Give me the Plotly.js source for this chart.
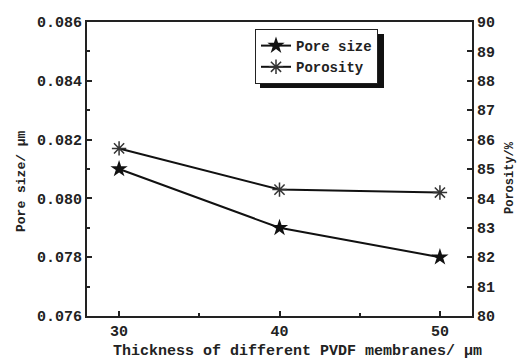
<!DOCTYPE html>
<html><head><meta charset="utf-8">
<script src="https://cdn.plot.ly/plotly-3.0.1.min.js"></script>
<style>html,body{margin:0;padding:0;background:#fff}#c{width:520px;height:364px}</style>
</head><body><div id="c"></div>
<script>
const thickness = [30, 40, 50];
const poreSize = [0.081, 0.079, 0.078];
const porosity = [85.7, 84.3, 84.2];
const xTitle = 'Thickness of different PVDF membranes/ μm';
const yTitle = 'Pore size/ μm';
const y2Title = 'Porosity/%';

const F = '"Liberation Mono", "DejaVu Sans Mono", monospace';
const traces = [
  {x: thickness, y: poreSize, name: 'Pore size', type: 'scatter', mode: 'lines+markers',
   line: {color: '#111', width: 2}, marker: {symbol: 'star', size: 13, color: '#111'}},
  {x: thickness, y: porosity, name: 'Porosity', type: 'scatter', mode: 'lines+markers', yaxis: 'y2',
   line: {color: '#111', width: 2}, marker: {symbol: 'asterisk-open', size: 12, color: '#333', line: {color: '#333', width: 1.5}}}
];
const L = 87, R = 472, T = 22, B = 316;
const px = v => (v - L) / (R - L), py = v => (B - v) / (B - T);
const layout = {
  width: 520, height: 364,
  margin: {l: 87, r: 48, t: 22, b: 48},
  paper_bgcolor: '#fff', plot_bgcolor: '#fff',
  font: {family: F, size: 15, color: '#222', weight: 'bold'},
  showlegend: true,
  legend: {x: px(255), y: py(29), xanchor: 'left', yanchor: 'top', bgcolor: '#fff',
           bordercolor: '#222', borderwidth: 1, font: {family: F, size: 14, color: '#222', weight: 'bold'},
           tracegroupgap: 0},
  shapes: [{type: 'rect', xref: 'paper', yref: 'paper', x0: px(260), x1: px(384), y0: py(88), y1: py(34),
            fillcolor: '#111', line: {width: 0}, layer: 'above'}],
  annotations: [
    {text: xTitle, xref: 'paper', yref: 'paper', x: px(297), y: py(351), xanchor: 'center', yanchor: 'middle',
     showarrow: false, font: {family: F, size: 15, color: '#222', weight: 'bold'}},
    {text: yTitle, xref: 'paper', yref: 'paper', x: px(21), y: py(181), xanchor: 'center', yanchor: 'middle',
     textangle: -90, showarrow: false, font: {family: F, size: 13, color: '#222', weight: 'bold'}},
    {text: y2Title, xref: 'paper', yref: 'paper', x: px(510), y: py(178), xanchor: 'center', yanchor: 'middle',
     textangle: -90, showarrow: false, font: {family: F, size: 12, color: '#222', weight: 'bold'}}
  ],
  xaxis: {range: [28, 52], tickvals: [30, 40, 50], ticks: 'inside', ticklen: 5, tickwidth: 2,
          showgrid: false, zeroline: false, showline: true, linewidth: 2, linecolor: '#222', mirror: true,
          minor: {tickvals: [35, 45], ticks: 'inside', ticklen: 3, tickwidth: 2, tickcolor: '#222'},
          tickcolor: '#222', tickfont: {size: 15}},
  yaxis: {range: [0.076, 0.086], dtick: 0.002, tickformat: '.3f', ticks: 'inside', ticklen: 5, tickwidth: 2,
          showgrid: false, zeroline: false, showline: true, linewidth: 2, linecolor: '#222', tickcolor: '#222',
          tickfont: {size: 15},
          minor: {dtick: 0.001, ticks: 'inside', ticklen: 3, tickwidth: 2, tickcolor: '#222'}},
  yaxis2: {range: [80, 90], dtick: 1, overlaying: 'y', side: 'right', ticks: 'inside', ticklen: 5, tickwidth: 2,
           showgrid: false, zeroline: false, showline: true, linewidth: 2, linecolor: '#222', tickcolor: '#222',
           tickfont: {size: 15}}
};
Plotly.newPlot('c', traces, layout, {displayModeBar: false, staticPlot: true});
</script></body></html>
